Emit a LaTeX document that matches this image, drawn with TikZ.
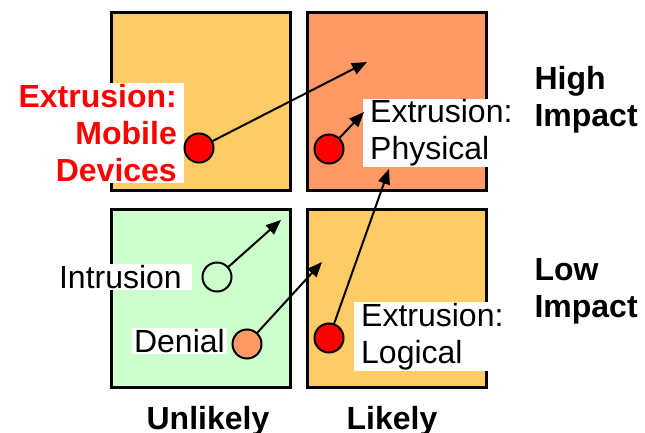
\documentclass[tikz,border=0pt]{standalone}
\usepackage{fontspec}
\setmainfont{Liberation Sans}
\usetikzlibrary{arrows.meta}

\definecolor{sand}{HTML}{FFCC66}
\definecolor{salmon}{HTML}{FF9966}
\definecolor{mint}{HTML}{CCFFCC}

\begin{document}
\begin{tikzpicture}[x=1pt,y=-1pt,
  quad/.style={draw, line width=3pt, minimum width=179pt, minimum height=178pt, inner sep=0pt},
  dot/.style={circle, draw, line width=2pt, minimum size=29pt, inner sep=0pt},
  lbl/.style={fill=white, inner xsep=7pt, inner ysep=1pt, font=\fontsize{32}{37}\selectfont},
  axis/.style={font=\bfseries\fontsize{32}{37}\selectfont, align=left},
  arr/.style={line width=2pt, -{Triangle[length=15pt,width=12pt]}}]
  \useasboundingbox (0,0) rectangle (645,433);

  % the four squares
  \foreach \nm/\cx/\cy/\col in {hiunl/201/101.5/sand, hilik/397/101.5/salmon,
                                lounl/201/298.5/mint, lolik/397/298.5/sand} {
    \node[quad, fill=\col] (\nm) at (\cx,\cy) {};
  }

  % labels
  \node[lbl, text=red, font=\bfseries\fontsize{32}{37}\selectfont, align=right, anchor=east]
    (moblbl) at (184,133) {Extrusion:\\Mobile\\Devices};
  \node[lbl, align=left, anchor=west] (phylbl) at (363,133) {Extrusion:\\Physical};
  \node[lbl, align=left, anchor=west] (loglbl) at (354,336.5) {Extrusion:\\Logical};
  \node[lbl, anchor=east, inner xsep=2pt] (intlbl) at (192,277) {Intrusion\kern8pt};
  \node[lbl, anchor=east, inner xsep=2pt] (denlbl) at (227,341) {Denial};

  % threats
  \node[dot, fill=red] (mob) at (199,148) {};
  \node[dot, fill=red] (phy) at (329,149) {};
  \node[dot, fill=red] (log) at (329,338) {};
  \node[dot, fill=mint] (int) at (217,277) {};
  \node[dot, fill=salmon] (den) at (247,344) {};

  % where they move to
  \coordinate (mobto) at (367,62);
  \coordinate (phyto) at (364,112);
  \coordinate (logto) at (389,169);
  \coordinate (intto) at (281,220);
  \coordinate (dento) at (322,262);
  \draw[arr] (mob) -- (mobto);
  \draw[arr] (phy) -- (phyto);
  \draw[arr] (log) -- (logto);
  \draw[arr] (int) -- (intto);
  \draw[arr] (den) -- (dento);

  % axes
  \node[axis, anchor=west] (hi) at (531,100) {High\\Impact};
  \node[axis, anchor=west] (lo) at (531,291) {Low\\Impact};
  \node[axis, anchor=base] (unl) at (208,429) {Unlikely};
  \node[axis, anchor=base] (lik) at (392,429) {Likely};
\end{tikzpicture}
\end{document}
